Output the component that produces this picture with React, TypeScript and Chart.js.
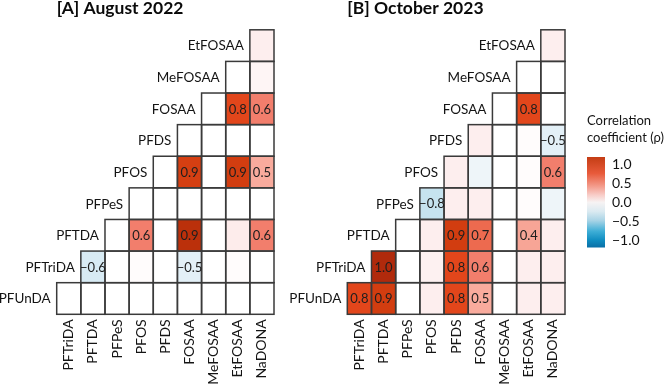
import React, { useEffect, useRef } from "react";
import { Chart, registerables } from "chart.js";
Chart.register(...registerables);

// Row variables (bottom → top) and column variables (left → right)
const rowLabels = ["PFUnDA", "PFTriDA", "PFTDA", "PFPeS", "PFOS", "PFDS", "FOSAA", "MeFOSAA", "EtFOSAA"];
const colLabels = ["PFTriDA", "PFTDA", "PFPeS", "PFOS", "PFDS", "FOSAA", "MeFOSAA", "EtFOSAA", "NaDONA"];

const N = null;
// [A] August 2022 — rho per row (null = outside triangle)
const augPFUnDA = [0, 0, 0, 0, 0, 0, 0, 0, 0];
const augPFTriDA = [N, -0.6, 0, 0.01, 0, -0.5, 0, 0.01, 0];
const augPFTDA = [N, N, 0, 0.6, 0, 0.94, 0, 0.06, 0.6];
const augPFPeS = [N, N, N, 0, 0, 0, 0, 0, 0];
const augPFOS = [N, N, N, N, 0, 0.88, 0, 0.9, 0.5];
const augPFDS = [N, N, N, N, N, 0, 0, 0, 0];
const augFOSAA = [N, N, N, N, N, N, 0, 0.8, 0.6];
const augMeFOSAA = [N, N, N, N, N, N, N, 0, 0.03];
const augEtFOSAA = [N, N, N, N, N, N, N, N, 0.05];

// [B] October 2023
const octPFUnDA = [0.8, 0.9, 0, 0.05, 0.8, 0.5, 0, 0.05, 0.05];
const octPFTriDA = [N, 1.0, 0, 0.04, 0.8, 0.6, 0, 0.05, 0.05];
const octPFTDA = [N, N, 0, 0.05, 0.9, 0.7, 0, 0.4, 0.05];
const octPFPeS = [N, N, N, -0.8, 0.05, 0.05, 0, 0.01, -0.08];
const octPFOS = [N, N, N, N, 0.05, -0.08, 0, 0.01, 0.6];
const octPFDS = [N, N, N, N, N, 0.05, 0, 0.01, -0.5];
const octFOSAA = [N, N, N, N, N, N, 0, 0.8, 0];
const octMeFOSAA = [N, N, N, N, N, N, N, 0, 0];
const octEtFOSAA = [N, N, N, N, N, N, N, N, 0.05];

const augMatrix = [augPFUnDA, augPFTriDA, augPFTDA, augPFPeS, augPFOS, augPFDS, augFOSAA, augMeFOSAA, augEtFOSAA];
const octMatrix = [octPFUnDA, octPFTriDA, octPFTDA, octPFPeS, octPFOS, octPFDS, octFOSAA, octMeFOSAA, octEtFOSAA];

const colorbarTicks = [-1, -0.5, 0, 0.5, 1];

const FONT = "Lato";
const MINUS = "\u2212";
const TEXT = "#141414";

const colorStops: [number, string][] = [
  [-1, "#0571b0"],
  [-0.85, "#b5dbeb"],
  [-0.8, "#c6e3ef"],
  [-0.6, "#d8ebf4"],
  [-0.5, "#e3f0f7"],
  [-0.08, "#eef5f9"],
  [0, "#ffffff"],
  [0.05, "#fdeeee"],
  [0.4, "#f7a596"],
  [0.5, "#f9ab9d"],
  [0.6, "#f27e6c"],
  [0.7, "#ed6a4f"],
  [0.8, "#e2461b"],
  [0.9, "#d23d10"],
  [0.94, "#bb300b"],
  [1.0, "#b02a0c"],
];

function hexToRgb(h: string) {
  return [parseInt(h.slice(1, 3), 16), parseInt(h.slice(3, 5), 16), parseInt(h.slice(5, 7), 16)];
}

function cellColor(v: number) {
  if (v <= colorStops[0][0]) return colorStops[0][1];
  for (let i = 1; i < colorStops.length; i++) {
    const [v1, c1] = colorStops[i];
    const [v0, c0] = colorStops[i - 1];
    if (v <= v1) {
      const t = (v - v0) / (v1 - v0);
      const a = hexToRgb(c0), b = hexToRgb(c1);
      const m = a.map((x, k) => Math.round(x + (b[k] - x) * t));
      return `rgb(${m[0]},${m[1]},${m[2]})`;
    }
  }
  return colorStops[colorStops.length - 1][1];
}

function fmt(v: number) {
  const s = Math.abs(v).toFixed(1);
  return v < -0.001 ? MINUS + s : s;
}

function makePanel(canvas: HTMLCanvasElement, title: string, matrix: (number | null)[][], padLeft: number, padRight: number) {
  const datasets = matrix.map((row, r) => ({
    label: rowLabels[r],
    data: row.map((v) => (v === null ? null : [r - 0.5, r + 0.5])),
    backgroundColor: row.map((v) => (v === null ? "rgba(0,0,0,0)" : cellColor(v))),
    borderWidth: 0,
    grouped: false,
    barPercentage: 1,
    categoryPercentage: 1,
  }));

  const overlay = {
    id: "cellOverlay",
    afterDatasetsDraw(chart: any) {
      const ctx = chart.ctx;
      const xs = chart.scales.x;
      const ys = chart.scales.y;
      ctx.save();
      // cell borders
      ctx.strokeStyle = "#3a3a3a";
      ctx.lineWidth = 1.5;
      matrix.forEach((row, r) => {
        const meta = chart.getDatasetMeta(r);
        row.forEach((v, c) => {
          if (v === null) return;
          const el = meta.data[c];
          const p = el.getProps(["x", "y", "base", "width"], true);
          const top = Math.min(p.y, p.base);
          const h = Math.abs(p.base - p.y);
          ctx.strokeRect(p.x - p.width / 2, top, p.width, h);
        });
      });
      // values
      ctx.fillStyle = "#1e1e1e";
      ctx.font = `13px ${FONT}`;
      ctx.textAlign = "center";
      ctx.textBaseline = "middle";
      matrix.forEach((row, r) => {
        const meta = chart.getDatasetMeta(r);
        row.forEach((v, c) => {
          if (v === null || Math.abs(v) < 0.35) return;
          const p = meta.data[c].getProps(["x", "y", "base"], true);
          ctx.fillText(fmt(v), p.x, (p.y + p.base) / 2 + 0.5);
        });
      });
      // row labels placed next to first cell of each row
      ctx.fillStyle = TEXT;
      ctx.font = `13.5px ${FONT}`;
      ctx.textAlign = "right";
      const half = (xs.getPixelForValue(1) - xs.getPixelForValue(0)) / 2;
      matrix.forEach((row, r) => {
        const c0 = row.findIndex((v) => v !== null);
        const x = xs.getPixelForValue(c0) - half - 6;
        ctx.fillText(rowLabels[r], x, ys.getPixelForValue(r) + 0.5);
      });
      ctx.restore();
    },
  };

  return new Chart(canvas, {
    type: "bar",
    data: { labels: colLabels, datasets: datasets as any },
    options: {
      animation: false,
      responsive: false,
      layout: { padding: { left: padLeft, right: padRight, top: 0, bottom: 0 } },
      plugins: {
        legend: { display: false },
        tooltip: { enabled: false },
        title: {
          display: true,
          text: title,
          align: "start",
          color: "#0a0a0a",
          font: { family: FONT, size: 17.5, weight: "bold", lineHeight: 1 },
          padding: { top: 0, bottom: 12.3 },
        },
      },
      scales: {
        x: {
          type: "category",
          offset: true,
          grid: { display: false, drawTicks: false },
          border: { display: false },
          afterFit: (s: any) => {
            s.height = 72.7;
          },
          ticks: {
            autoSkip: false,
            minRotation: 90,
            maxRotation: 90,
            padding: 5,
            color: TEXT,
            font: { family: FONT, size: 14 },
          },
        },
        y: { type: "linear", min: -0.5, max: 8.5, display: false },
      },
    } as any,
    plugins: [overlay],
  });
}

function makeColorbar(canvas: HTMLCanvasElement) {
  return new Chart(canvas, {
    type: "bar",
    data: {
      labels: [""],
      datasets: [
        {
          data: [[-1.2, 1.2]] as any,
          borderWidth: 0,
          barPercentage: 1,
          categoryPercentage: 1,
          backgroundColor: (ctx: any) => {
            const ca = ctx.chart.chartArea;
            if (!ca) return "#fff";
            const g = ctx.chart.ctx.createLinearGradient(0, ca.top, 0, ca.bottom);
            g.addColorStop(0, "#c43d14");
            g.addColorStop(0.18, "#e85a3a");
            g.addColorStop(0.32, "#f39a8a");
            g.addColorStop(0.42, "#f8cdc8");
            g.addColorStop(0.5, "#f7f3f3");
            g.addColorStop(0.6, "#dbeaf1");
            g.addColorStop(0.7, "#a9d4e6");
            g.addColorStop(0.82, "#3eaed6");
            g.addColorStop(0.92, "#0f8cc0");
            g.addColorStop(1, "#0a6ea5");
            return g;
          },
        },
      ],
    },
    options: {
      animation: false,
      responsive: false,
      layout: { padding: { left: 27, right: 0, top: 0, bottom: 0 } },
      plugins: {
        legend: { display: false },
        tooltip: { enabled: false },
        title: {
          display: true,
          text: ["Correlation", "coefficient (\u03c1)"],
          align: "start",
          color: TEXT,
          font: { family: FONT, size: 13, weight: "normal", lineHeight: 1.33 },
          padding: { top: 12, bottom: 10.4 },
        },
      },
      scales: {
        x: { display: false },
        y: {
          position: "right",
          min: -1.2,
          max: 1.2,
          grid: { display: false, drawTicks: false },
          border: { display: false },
          afterBuildTicks: (s: any) => {
            s.ticks = colorbarTicks.map((v) => ({ value: v }));
          },
          afterFit: (s: any) => {
            s.width = 63;
          },
          ticks: {
            padding: 7,
            color: TEXT,
            font: { family: FONT, size: 14 },
            callback: (v: any) => fmt(Number(v)),
          },
        },
      },
    } as any,
  });
}

export default function App() {
  const leftRef = useRef<HTMLCanvasElement>(null);
  const rightRef = useRef<HTMLCanvasElement>(null);
  const barRef = useRef<HTMLCanvasElement>(null);

  useEffect(() => {
    Chart.defaults.font.family = FONT;
    const charts = [
      makePanel(leftRef.current!, "[A] August 2022", augMatrix, 56.7, 26),
      makePanel(rightRef.current!, "[B] October 2023", octMatrix, 67.3, 15),
      makeColorbar(barRef.current!),
    ];
    return () => charts.forEach((c) => c.destroy());
  }, []);

  return (
    <div style={{ position: "fixed", left: 0, top: 0, width: 668, height: 387, background: "#fff", overflow: "hidden" }}>
      <canvas ref={leftRef} width={300} height={387} style={{ position: "absolute", left: 0, top: 0 }} />
      <canvas ref={rightRef} width={300} height={387} style={{ position: "absolute", left: 280, top: 0 }} />
      <canvas ref={barRef} width={108} height={163} style={{ position: "absolute", left: 560, top: 100 }} />
    </div>
  );
}
